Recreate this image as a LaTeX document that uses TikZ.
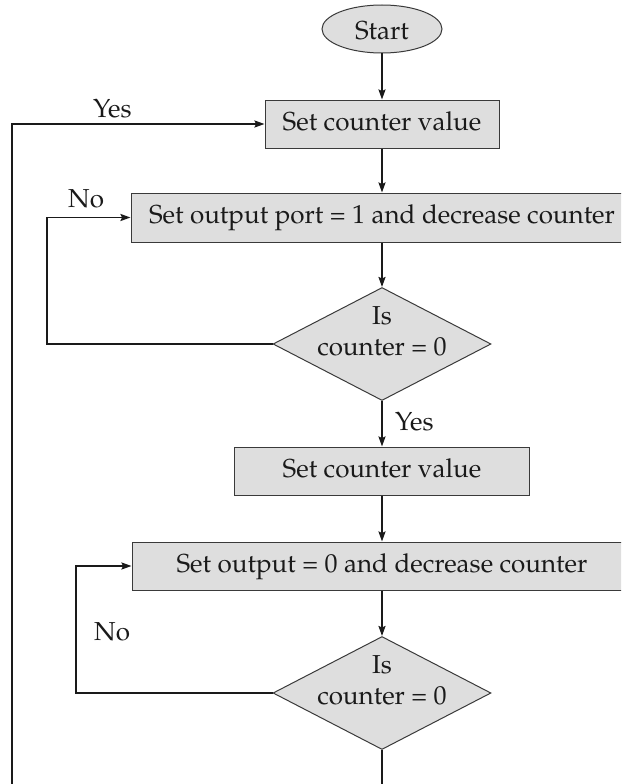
\documentclass[tikz,border=0pt]{standalone}
\usepackage[T1]{fontenc}
\usepackage{mathpazo}
\usetikzlibrary{shapes.geometric,arrows.meta}
\definecolor{boxfill}{HTML}{DEDEDE}
\definecolor{boxline}{HTML}{3A3A3A}
\definecolor{ink}{HTML}{1A1A1A}
\tikzset{
  txt/.style={font=\fontsize{26}{31}\selectfont, text=ink},
  procbox/.style={txt, rectangle, draw=boxline, fill=boxfill, line width=1pt,
    inner sep=0pt, text height=18pt, text depth=6pt},
  startshape/.style={txt, ellipse, draw=boxline, fill=boxfill, line width=1pt,
    inner sep=0pt, minimum width=120pt, minimum height=48pt, text height=22pt, text depth=0pt},
  decision/.style={diamond, draw=boxline, fill=boxfill, line width=1pt,
    inner sep=0pt, minimum width=218pt, minimum height=113pt},
  dtext/.style={txt, align=center, inner sep=0pt},
  lbl/.style={txt, inner sep=0pt, anchor=base west},
  conn/.style={draw=ink, line width=1.8pt, -{Stealth[length=10pt,width=7pt,inset=1.5pt]}},
  plain/.style={draw=ink, line width=1.8pt}
}
\begin{document}
\begin{tikzpicture}[x=1pt, y=-1pt]
\useasboundingbox (0,0) rectangle (621,784);
\clip (0,0) rectangle (621,784);

\node[startshape] (start) at (382,29) {Start};
\node[procbox, minimum width=234pt, minimum height=48pt] (b1) at (382,124) {Set counter value};
\node[procbox, minimum width=502pt, minimum height=49pt] (b2) at (382,217.5) {Set output port = 1 and decrease counter};
\node[decision] (d1) at (382,344) {};
\node[dtext] (t1) at (382,331) {Is\\counter = 0};
\node[procbox, minimum width=295pt, minimum height=48pt] (b3) at (382,471) {Set counter value};
\node[procbox, minimum width=500pt, minimum height=48pt] (b4) at (382,566) {Set output = 0 and decrease counter};
\node[decision] (d2) at (382,693) {};
\node[dtext] (t2) at (382,680) {Is\\counter = 0};

\node[lbl] (yes1) at (93,117) {Yes};
\node[lbl] (no1) at (68,207) {No};
\node[lbl] (yes2) at (395,430) {Yes};
\node[lbl] (no2) at (94,640) {No};

\coordinate (leftend) at (12,800);
\coordinate (bottomend) at (382,800);
\coordinate (l1) at (47,344);
\coordinate (l2) at (76,693);

\draw[conn] (start) -- (b1);
\draw[conn] (b1) -- (b2);
\draw[conn] (b2) -- (d1);
\draw[conn] (d1) -- (b3);
\draw[conn] (b3) -- (b4);
\draw[conn] (b4) -- (d2);
\draw[plain] (d2.south) -- (bottomend);
\draw[conn] (leftend) |- (b1.west);
\draw[conn] (d1.west) -- (l1) |- (b2.west);
\draw[conn] (d2.west) -- (l2) |- (b4.west);
\end{tikzpicture}
\end{document}
